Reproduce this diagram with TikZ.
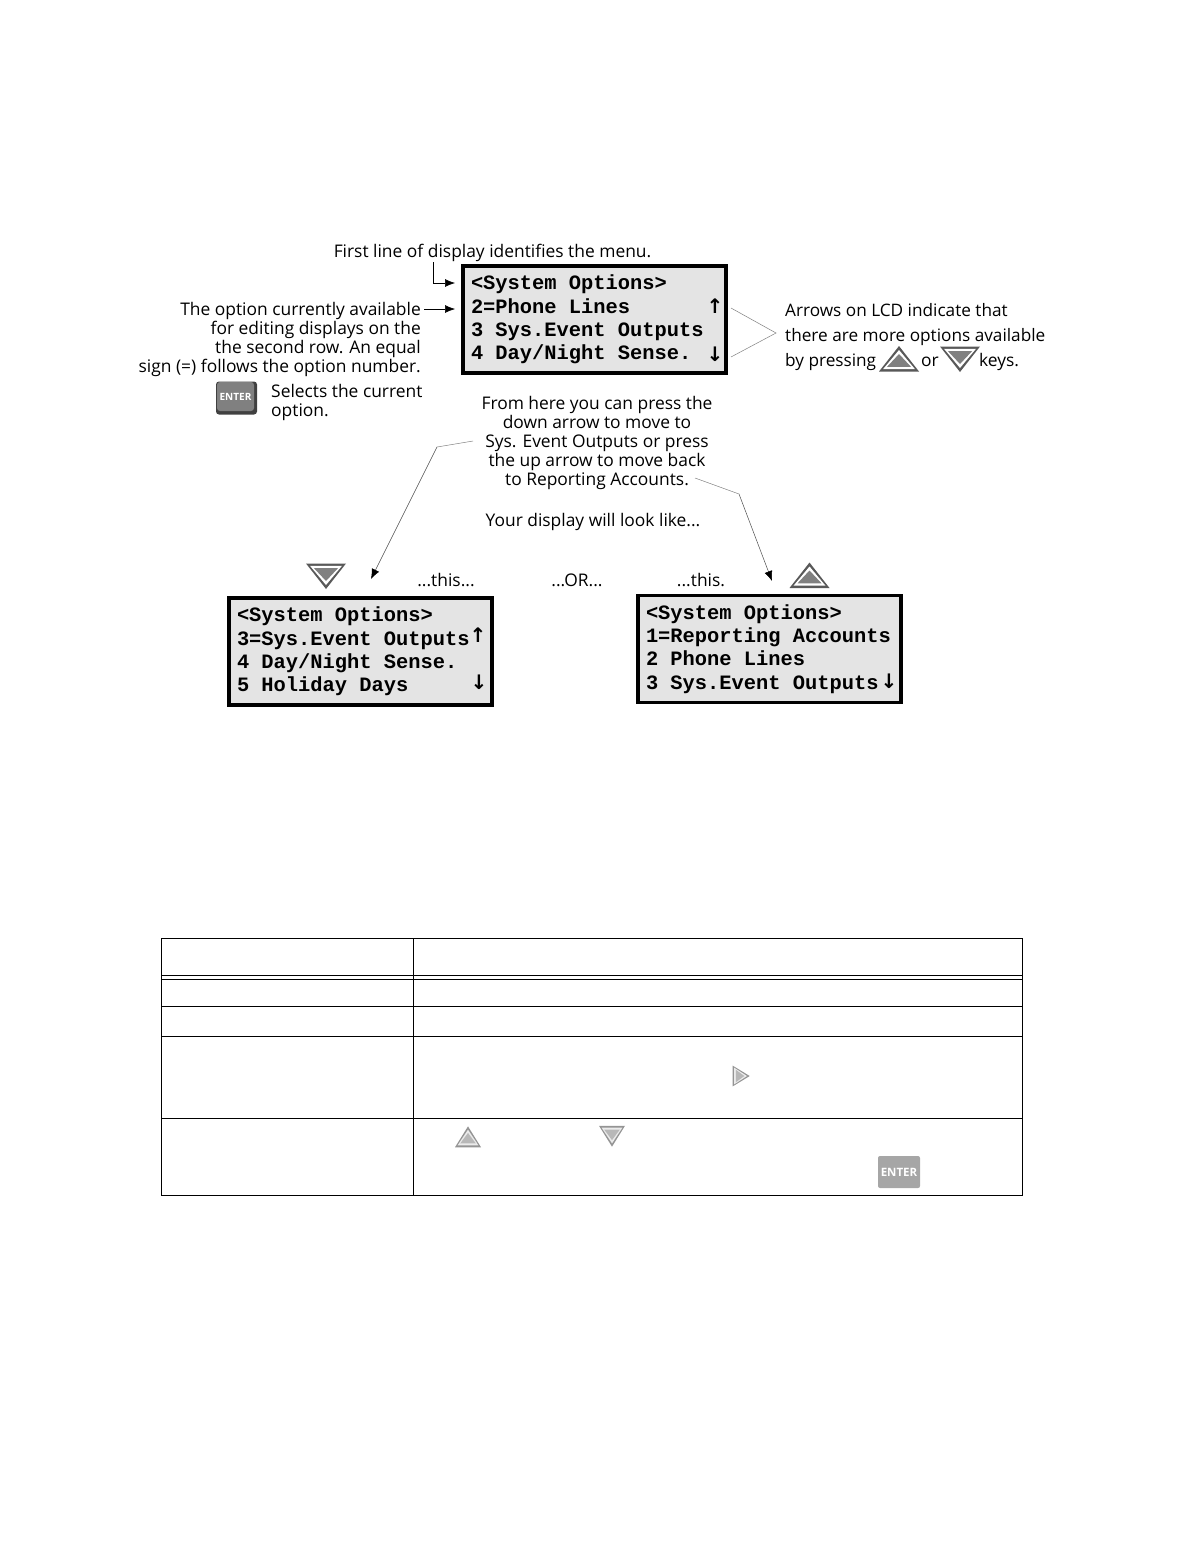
\documentclass[tikz,border=0pt]{standalone}
\usepackage{fontspec}
\setmainfont{Open Sans}
\newfontfamily\lcdfont{Liberation Mono}[BoldFont={Liberation Mono Bold}]
\newfontfamily\arrowfont{DejaVu Sans}
\usetikzlibrary{shapes,arrows,arrows.meta,positioning,fit}

\definecolor{lcdgray}{HTML}{E4E4E4}
\newcommand{\tripaths}[3]{
    \fill[#1] (-20,12.5) -- (20,12.5) -- (0,-13) -- cycle;
    \fill[#2] (-16,10.2) -- (16,10.2) -- (0,-9) -- cycle;
    \fill[#3] (-12,7.8) -- (12,7.8) -- (0,-5) -- cycle;
}

\begin{document}
\begin{tikzpicture}[
    x=1pt, y=-1pt,
    lcd/.style={rectangle, draw, line width=3.5pt, fill=lcdgray, minimum width=263pt, minimum height=107pt, inner sep=0pt, text width=247pt, align=left, font=\lcdfont\bfseries\fontsize{20.4}{23.4}\selectfont, execute at begin node={\spaceskip=12.24pt\relax}},
    lcdarrow/.style={font=\arrowfont\bfseries\fontsize{20}{20}\selectfont, inner sep=0pt},
    note/.style={inner sep=0pt, font=\fontsize{17.4}{19}\selectfont},
    wide note/.style={inner sep=0pt, font=\fontsize{17.2}{25}\selectfont},
    leader/.style={draw=gray, line width=0.5pt},
    pointer/.style={-{Latex[length=10pt,width=8pt,black]}, line width=0.6pt},
    ruled/.style={line width=0.9pt},
    keytri/.pic={\tripaths{black!65}{white}{black!50}},
    softtri/.pic={\tripaths{black!42}{black!8}{black!28}}
]
\useasboundingbox (0,0) rectangle (1204,1566);

% LCD displays
\node[lcd] (main) at (594.5,319.5) {<System Options>\\2=Phone Lines\\3 Sys.Event Outputs\\4 Day/Night Sense.};
\node[lcd] (down) at (360.5,651.5) {<System Options>\\3=Sys.Event Outputs\\4 Day/Night Sense.\\5 Holiday Days};
\node[lcd] (up) at (769.5,649) {<System Options>\\1=Reporting Accounts\\2 Phone Lines\\3 Sys.Event Outputs};

\node[lcdarrow] (mainup) at (715,306) {↑};
\node[lcdarrow] (maindn) at (715,354) {↓};
\node[lcdarrow] (downup) at (478,635) {↑};
\node[lcdarrow] (downdn) at (479,682) {↓};
\node[lcdarrow] (updn) at (889,681) {↓};

% Notes round the main display
\node[note, anchor=base] (first) at (492.5,257) {First line of display identifies the menu.};
\node[note, align=right, anchor=north east] (option) at (421,302) {The option currently available\\for editing displays on the\\the second row. An equal\\sign (=) follows the option number.};
\node[note, align=left, anchor=north west] (selects) at (271,384) {Selects the current\\option.};
\node[wide note, align=left, anchor=north west] (lcdnote) at (785,303) {Arrows on LCD indicate that\\there are more options available\\by pressing};
\node[note, anchor=base west] (ortext) at (921,366) {or};
\node[note, anchor=base west] (keystext) at (979,366) {keys.};

\node[note, align=center, anchor=north] (fromhere) at (597,396) {From here you can press the\\down arrow to move to\\Sys. Event Outputs or press\\the up arrow to move back\\to Reporting Accounts.};
\node[note] (looklike) at (593,522) {Your display will look like...};
\node[note] (thisa) at (446,580) {...this...};
\node[note] (ortwo) at (577,580) {...OR...};
\node[note] (thisb) at (701,580) {...this.};

% Key symbols
\pic at (899,359) {keytri};
\pic[rotate=180] at (960,359) {keytri};
\pic at (809.5,575.5) {keytri};
\pic[rotate=180] at (326,576) {keytri};

% ENTER key
\node[rectangle, rounded corners=3pt, fill=black!75, minimum width=41pt, minimum height=33pt, inner sep=0pt] (entershadow) at (236.5,398) {};
\node[rectangle, rounded corners=3pt, fill=black!50, minimum width=37pt, minimum height=29pt, inner sep=0pt, text=white, font=\bfseries\fontsize{10}{10}\selectfont] (enter) at (235.5,396.5) {ENTER};

% Connectors
\coordinate (firstdrop) at (433,262);
\coordinate (firstbend) at (433,283);
\draw[pointer] (firstdrop) -- (firstbend) -- (455,283);
\draw[pointer] (option.north east)++(3,7) -- (455,309);

\coordinate (lcdtip) at (776,333);
\draw[leader] (731,308) -- (lcdtip) -- (731,357);

\coordinate (fromleft) at (437,447);
\coordinate (fromright) at (739,494);
\draw[leader] (473,441) -- (fromleft);
\draw[pointer, gray!60!black, line width=0.5pt] (fromleft) -- (371,579);
\draw[leader] (695,478) -- (fromright);
\draw[pointer, gray!60!black, line width=0.5pt] (fromright) -- (772,581);

% Table
\draw[ruled] (161,938) rectangle (1022,1195);
\draw[line width=0.7pt] (413,938) -- (413,1195);
\foreach \rowy in {975,979,1006,1036,1118}
    \draw[ruled] (161,\rowy) -- (1022,\rowy);

\pic[xscale=0.65, yscale=0.82] at (468,1137) {softtri};
\pic[rotate=180, xscale=0.65, yscale=0.82] at (612,1136) {softtri};
\pic[rotate=-90, xscale=0.52, yscale=0.67] at (741,1076) {softtri};
\node[rectangle, rounded corners=2pt, fill=black!35, minimum width=42pt, minimum height=32pt, inner sep=0pt, text=white, font=\bfseries\fontsize{11.5}{11.5}\selectfont] (tableenter) at (899,1172) {ENTER};
\end{tikzpicture}
\end{document}
